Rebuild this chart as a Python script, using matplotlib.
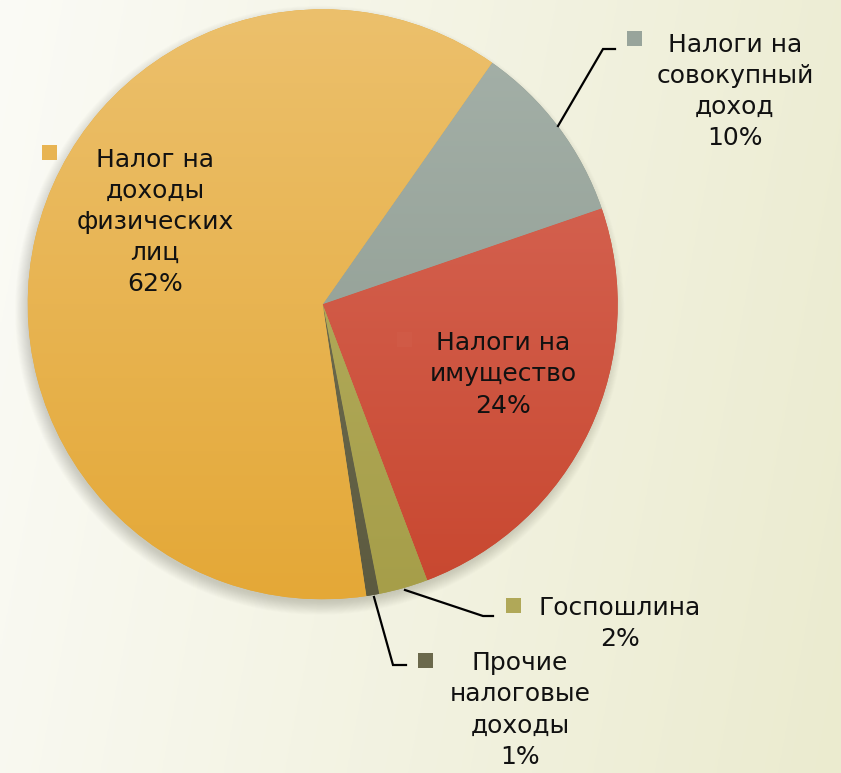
import numpy as np
import matplotlib
matplotlib.use('Agg')
import matplotlib.pyplot as plt
from matplotlib.patches import Circle, Rectangle

# ---- data ----
categories = ['Налоги на\nсовокупный\nдоход', 'Налоги на\nимущество', 'Госпошлина',
              'Прочие\nналоговые\nдоходы', 'Налог на\nдоходы\nфизических\nлиц']
values = [10.0, 24.5, 2.7, 0.7, 62.1]
pct_labels = ['10%', '24%', '2%', '1%', '62%']

# ---- styles ----
top_colors = ['#a5b1a9', '#d96c5d', '#b9b266', '#7a7858', '#ecc06c']
bot_colors = ['#8a978c', '#c8472f', '#a69e49', '#5c5a40', '#e4a837']

W, H = 841, 773
fig = plt.figure(figsize=(W / 100, H / 100), dpi=100)
ax = fig.add_axes([0, 0, 1, 1])

def Y(y):
    return H - y

# background gradient
xx = np.linspace(0, 1, 300)
yy = np.linspace(0, 1, 300)
X, Yg = np.meshgrid(xx, yy)
t = np.clip(0.85 * X + 0.15 * (1 - Yg), 0, 1)
c0 = np.array([251, 251, 246]) / 255
c1 = np.array([235, 235, 207]) / 255
bg = c0[None, None, :] * (1 - t[..., None]) + c1[None, None, :] * t[..., None]
ax.imshow(bg, extent=(0, W, 0, H), origin='lower', zorder=0, aspect='auto')

cx, cy, r = 322.7, Y(304.3), 295

# shadow
for k in range(16):
    ax.add_patch(Circle((cx - 3, cy - 6), r - 4 + k * 0.9, color='#505040',
                        alpha=0.016, lw=0, zorder=0.5))

wedges, _ = ax.pie(values, startangle=54.95, counterclock=False,
                   center=(cx, cy), radius=r,
                   colors=bot_colors, wedgeprops=dict(linewidth=0))
for w in wedges:
    w.set_zorder(1)

for i, w in enumerate(wedges):
    a = np.array(matplotlib.colors.to_rgb(bot_colors[i]))
    b = np.array(matplotlib.colors.to_rgb(top_colors[i]))
    s = np.linspace(0, 1, 256)[:, None, None]
    img = a[None, None, :] * (1 - s) + b[None, None, :] * s
    im = ax.imshow(img, extent=(cx - r, cx + r, cy - r, cy + r), origin='lower',
                   zorder=2, aspect='auto')
    im.set_clip_path(w)

ax.set_xlim(0, W)
ax.set_ylim(0, H)
ax.set_aspect('auto')
ax.axis('off')

# labels
label_pos = [(735, 91.5), (503, 374.5), (620, 623.5), (520, 710), (155, 222)]
marker_pos = [(635, 38), (405, 339), (514, 605), (426, 660), (50, 152)]
for i in range(len(values)):
    lx, ly = label_pos[i]
    ax.text(lx, Y(ly), categories[i] + '\n' + pct_labels[i], ha='center', va='center',
            multialignment='center', fontsize=18, linespacing=1.38,
            color='#111111', family='DejaVu Sans', zorder=5)
    mx, my = marker_pos[i]
    ax.add_patch(Rectangle((mx - 7.5, Y(my) - 7.5), 15, 15,
                           facecolor=matplotlib.colors.to_hex(
                               (np.array(matplotlib.colors.to_rgb(top_colors[i])) +
                                np.array(matplotlib.colors.to_rgb(bot_colors[i]))) / 2),
                           lw=0, zorder=5))

# leader lines
leaders = [
    [(558, 126), (603, 49), (615, 49)],
    [(405, 590), (483, 616), (493, 616)],
    [(374, 597), (393, 665), (406, 665)],
]
for pts in leaders:
    xs = [p[0] for p in pts]
    ys = [Y(p[1]) for p in pts]
    ax.plot(xs, ys, color='black', lw=1.6, zorder=4, solid_joinstyle='miter')

fig.savefig('out.png', dpi=100)
